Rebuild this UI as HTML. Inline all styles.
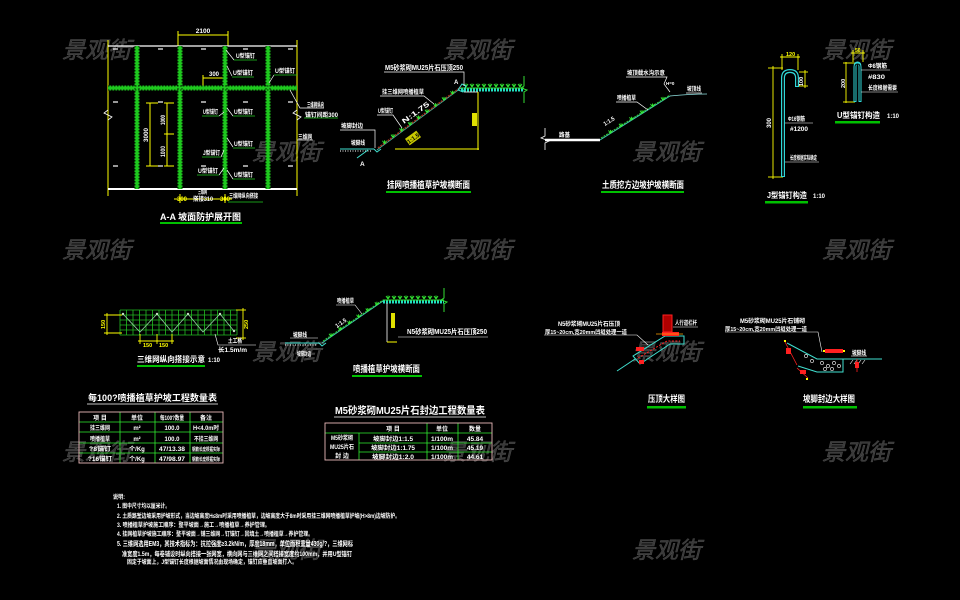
<!DOCTYPE html>
<html><head><meta charset="utf-8">
<style>
html,body{margin:0;padding:0;background:#000;}
svg{display:block;}
text{font-family:"Liberation Sans","Noto Sans CJK SC",sans-serif;font-weight:bold;}
.wm text{font-weight:normal;}
</style></head><body>
<svg width="960" height="600" viewBox="0 0 960 600" xmlns="http://www.w3.org/2000/svg">
<defs>
<g id="gr"><path d="M0,0 l-2,-3 M0,0 l0,-3.5 M0,0 l2,-3" stroke="#33ee33" stroke-width="0.9" fill="none"/></g>
</defs>
<rect width="960" height="600" fill="#000"/>

<!-- watermarks -->
<g class="wm" font-size="23" font-style="italic" fill="#383838" stroke="#4a4a4a" stroke-width="0.5">
<text x="62" y="58">景观街</text><text x="443" y="58">景观街</text><text x="822" y="58">景观街</text>
<text x="252" y="160">景观街</text><text x="632" y="160">景观街</text>
<text x="62" y="258">景观街</text><text x="443" y="258">景观街</text><text x="822" y="258">景观街</text>
<text x="252" y="360">景观街</text><text x="632" y="360">景观街</text>
<text x="62" y="460">景观街</text><text x="443" y="460">景观街</text><text x="822" y="460">景观街</text>
<text x="252" y="558">景观街</text><text x="632" y="558">景观街</text>
</g>

<!-- ===== A-A ===== -->
<g stroke="#ffff00" stroke-width="1" fill="none">
<line x1="108" y1="40" x2="108" y2="196"/>
<line x1="297" y1="40" x2="297" y2="196"/>
<line x1="178" y1="35" x2="228" y2="35"/>
<line x1="178" y1="31" x2="178" y2="46"/>
<line x1="228" y1="31" x2="228" y2="46"/>
<line x1="203" y1="78" x2="225" y2="78"/>
<line x1="203" y1="75" x2="203" y2="86"/>
<line x1="150" y1="103" x2="150" y2="166"/>
<line x1="146" y1="103" x2="158" y2="103"/>
<line x1="146" y1="166" x2="158" y2="166"/>
<line x1="167" y1="103" x2="167" y2="166"/>
<line x1="164" y1="103" x2="174" y2="103"/>
<line x1="164" y1="134" x2="174" y2="134"/>
<line x1="164" y1="166" x2="174" y2="166"/>
<line x1="174" y1="199" x2="232" y2="199"/>
<line x1="180" y1="194" x2="180" y2="203"/>
<line x1="225" y1="194" x2="225" y2="203"/>
</g>
<line x1="108" y1="46" x2="297" y2="46" stroke="#fff" stroke-width="1.2"/>
<line x1="108" y1="189" x2="297" y2="189" stroke="#fff" stroke-width="2"/>
<path d="M108,110 l-4,3 l8,4 l-4,3 M297,110 l-4,3 l8,4 l-4,3" stroke="#fff" fill="none" stroke-width="0.8"/>
<g fill="#1ec81e">
<rect x="134.5" y="46" width="5" height="143"/>
<rect x="177.5" y="46" width="5" height="143"/>
<rect x="222.5" y="46" width="5" height="143"/>
<rect x="265.5" y="46" width="5" height="143"/>
<rect x="108" y="85.5" width="189" height="5"/>
</g>
<g stroke="#000" stroke-width="0.8" stroke-dasharray="1.5 1.5">
<line x1="135" y1="46" x2="135" y2="189"/><line x1="139" y1="46" x2="139" y2="189"/>
<line x1="178" y1="46" x2="178" y2="189"/><line x1="182" y1="46" x2="182" y2="189"/>
<line x1="223" y1="46" x2="223" y2="189"/><line x1="227" y1="46" x2="227" y2="189"/>
<line x1="266" y1="46" x2="266" y2="189"/><line x1="270" y1="46" x2="270" y2="189"/>
<line x1="108" y1="86" x2="297" y2="86"/><line x1="108" y1="90" x2="297" y2="90"/>
</g>
<g stroke="#fff" stroke-width="1.2">
<line x1="113" y1="49" x2="118" y2="49"/><line x1="158" y1="49" x2="163" y2="49"/><line x1="201" y1="49" x2="206" y2="49"/><line x1="243" y1="49" x2="248" y2="49"/><line x1="288" y1="49" x2="293" y2="49"/>
<line x1="113" y1="102" x2="118" y2="102"/><line x1="158" y1="102" x2="163" y2="102"/><line x1="201" y1="102" x2="206" y2="102"/><line x1="243" y1="102" x2="248" y2="102"/><line x1="288" y1="102" x2="293" y2="102"/>
<line x1="113" y1="166" x2="118" y2="166"/><line x1="158" y1="166" x2="163" y2="166"/><line x1="201" y1="166" x2="206" y2="166"/><line x1="243" y1="166" x2="248" y2="166"/><line x1="288" y1="166" x2="293" y2="166"/>
</g>
<g stroke="#fff" stroke-width="0.7" fill="none">
<path d="M226,50 L234,60"/><path d="M227,66 L232,76"/><path d="M269,83 L274,75"/>
<path d="M219,116 L224,112"/><path d="M227,108 L233,116"/><path d="M227,138 L233,147"/>
<path d="M221,157 L224,150"/><path d="M219,175 L224,168"/><path d="M227,170 L233,179"/>
<path d="M290,90 L300,108 L324,108"/><path d="M297,140 L313,140"/>
</g>
<g stroke="#22cc22" stroke-width="0.8">
<line x1="234" y1="60" x2="257" y2="60"/><line x1="232" y1="77" x2="254" y2="77"/><line x1="274" y1="75" x2="297" y2="75"/>
<line x1="202" y1="116" x2="219" y2="116"/><line x1="233" y1="116" x2="255" y2="116"/><line x1="233" y1="148" x2="255" y2="148"/>
<line x1="202" y1="157" x2="221" y2="157"/><line x1="197" y1="175" x2="219" y2="175"/><line x1="233" y1="179" x2="255" y2="179"/>
<line x1="304" y1="118" x2="338" y2="118"/><line x1="228" y1="202" x2="263" y2="202"/>
</g>
<g fill="#fff" font-size="6">
<text x="203" y="33" text-anchor="middle" font-size="6.5">2100</text>
<text x="209" y="76">300</text>
<text x="236" y="58" textLength="19" lengthAdjust="spacingAndGlyphs">U型锚钉</text>
<text x="233" y="75" textLength="20" lengthAdjust="spacingAndGlyphs">U型锚钉</text>
<text x="275" y="73" textLength="20" lengthAdjust="spacingAndGlyphs">U型锚钉</text>
<text x="203" y="114" textLength="15" lengthAdjust="spacingAndGlyphs">U型锚钉</text>
<text x="234" y="114" textLength="19" lengthAdjust="spacingAndGlyphs">U型锚钉</text>
<text x="234" y="146" textLength="19" lengthAdjust="spacingAndGlyphs">U型锚钉</text>
<text x="203" y="155" textLength="17" lengthAdjust="spacingAndGlyphs">J型锚钉</text>
<text x="198" y="173" textLength="20" lengthAdjust="spacingAndGlyphs">U型锚钉</text>
<text x="234" y="177" textLength="19" lengthAdjust="spacingAndGlyphs">U型锚钉</text>
<text x="307" y="107" textLength="17" lengthAdjust="spacingAndGlyphs">三维网纵向</text>
<text x="305" y="117" textLength="33" lengthAdjust="spacingAndGlyphs">锚钉间距300</text>
<text x="298" y="139" textLength="14" lengthAdjust="spacingAndGlyphs">三维网</text>
<text transform="translate(148,142) rotate(-90)" textLength="14" lengthAdjust="spacingAndGlyphs">3000</text>
<text transform="translate(165,125) rotate(-90)" textLength="10" lengthAdjust="spacingAndGlyphs">1000</text>
<text transform="translate(165,157) rotate(-90)" textLength="11" lengthAdjust="spacingAndGlyphs">1000</text>
<text x="198" y="194" textLength="9" lengthAdjust="spacingAndGlyphs">三维网</text>
<text x="193" y="201" textLength="20" lengthAdjust="spacingAndGlyphs">搭接310</text>
<text x="229" y="198" textLength="29" lengthAdjust="spacingAndGlyphs">三维网纵向搭接</text>
</g>
<g fill="#ffff00" font-size="6"><text x="177" y="201">300</text><text x="220" y="201">300</text></g>
<text x="160" y="220" font-size="9" fill="#fff" textLength="81" lengthAdjust="spacingAndGlyphs">A-A  坡面防护展开图</text>
<rect x="160" y="222" width="82" height="2" fill="#00c000"/>

<!-- ===== Fig 2 ===== -->
<line x1="340" y1="149" x2="374" y2="149" stroke="#40e0d0" stroke-width="1"/>
<line x1="340" y1="151" x2="372" y2="151" stroke="#fff" stroke-width="1" stroke-dasharray="1 1.5"/>
<path d="M374,149 L377,152 L381,149" stroke="#40e0d0" fill="none"/>
<line x1="377" y1="150" x2="461" y2="88" stroke="#40c8b0" stroke-width="0.8"/>
<line x1="378" y1="148" x2="461" y2="87" stroke="#a03020" stroke-width="1.6" stroke-dasharray="2 1"/>
<g><use href="#gr" x="384.5" y="143.8"/><use href="#gr" x="393" y="137.6"/><use href="#gr" x="401.5" y="131.4"/><use href="#gr" x="410" y="125.2"/><use href="#gr" x="418.5" y="119"/><use href="#gr" x="427" y="112.8"/><use href="#gr" x="435.5" y="106.6"/><use href="#gr" x="444" y="100.4"/><use href="#gr" x="452.5" y="94.2"/></g>
<line x1="461" y1="90" x2="524" y2="90" stroke="#20e0c0" stroke-width="3" stroke-dasharray="2 1"/>
<line x1="461" y1="88" x2="524" y2="88" stroke="#33dd33" stroke-width="1"/>
<g><use href="#gr" x="466" y="87"/><use href="#gr" x="472" y="87"/><use href="#gr" x="478" y="87"/><use href="#gr" x="484" y="87"/><use href="#gr" x="490" y="87"/><use href="#gr" x="496" y="87"/><use href="#gr" x="502" y="87"/><use href="#gr" x="508" y="87"/><use href="#gr" x="514" y="87"/><use href="#gr" x="520" y="87"/></g>
<path d="M524,76 L524,86 L521,88 L527,90 L524,92 L524,103" stroke="#33dd33" fill="none"/>
<path d="M458,90 L462,84 L466,86 L463,92 Z" stroke="#40e0d0" fill="none"/>
<line x1="464" y1="92" x2="478" y2="92" stroke="#fff" stroke-width="0.8"/>
<g stroke="#ffff00" fill="none">
<line x1="478" y1="92" x2="478" y2="150"/>
<line x1="395" y1="149" x2="479" y2="149"/>
</g>
<rect x="472" y="113" width="5" height="13" fill="#e0e000"/>
<g transform="translate(413,138) rotate(-36)"><rect x="-7" y="-4" width="14" height="8" fill="#c8c800"/><text x="0" y="2.5" font-size="6" text-anchor="middle" fill="#000">1:1.5</text></g>
<g stroke="#fff" stroke-width="0.7" fill="none">
<path d="M384,72 L464,72 L464,86"/>
<path d="M380,96 L424,96 L434,104"/>
<path d="M377,115 L393,115 L402,128"/>
<path d="M340,130 L375,130 L375,148"/>
</g>
<line x1="357" y1="158" x2="368" y2="150" stroke="#40e0d0"/>
<g fill="#fff" font-size="6">
<text x="385" y="70" font-size="7" textLength="78" lengthAdjust="spacingAndGlyphs">M5砂浆砌MU25片石压顶250</text>
<text x="382" y="94" textLength="42" lengthAdjust="spacingAndGlyphs">挂三维网喷播植草</text>
<text x="378" y="113" textLength="15" lengthAdjust="spacingAndGlyphs">U型锚钉</text>
<text transform="translate(404,124) rotate(-36)" font-size="7" textLength="32" lengthAdjust="spacingAndGlyphs">N:1.75</text>
<text x="341" y="128" textLength="22" lengthAdjust="spacingAndGlyphs">坡脚封边</text>
<text x="351" y="145" textLength="14" lengthAdjust="spacingAndGlyphs">坡脚线</text>
<text x="360" y="166" font-size="6.5">A</text>
<text x="454" y="84" font-size="6">A</text>
</g>
<text x="387" y="188" font-size="9" fill="#fff" textLength="83" lengthAdjust="spacingAndGlyphs">挂网喷播植草护坡横断面</text>
<rect x="386" y="191" width="85" height="2" fill="#00c000"/>

<!-- ===== Fig 3 ===== -->
<path d="M545,128 L545,136 L541,138 L549,141 L545,143 L545,150" stroke="#fff" fill="none" stroke-width="0.8"/>
<line x1="545" y1="140" x2="600" y2="140" stroke="#fff" stroke-width="2.5"/>
<line x1="600" y1="140" x2="670" y2="96" stroke="#40c8b0" stroke-width="1"/>
<line x1="601" y1="138" x2="670" y2="95" stroke="#33cc33" stroke-width="1" stroke-dasharray="2 1"/>
<g><use href="#gr" x="610.5" y="133.4"/><use href="#gr" x="621" y="126.8"/><use href="#gr" x="631.5" y="120.2"/><use href="#gr" x="642" y="113.6"/><use href="#gr" x="652.5" y="107"/><use href="#gr" x="663" y="100.4"/></g>
<path d="M670,96 Q690,94 707,94" stroke="#90e0e0" fill="none" stroke-width="0.8"/>
<g stroke="#fff" stroke-width="0.7" fill="none">
<path d="M616,102 L637,102 L648,110"/>
<path d="M626,77 L667,77 L664,84 L670,92"/>
<path d="M686,93 L702,93"/>
</g>
<g fill="#fff" font-size="6">
<text x="559" y="137" textLength="11" lengthAdjust="spacingAndGlyphs">路基</text>
<text transform="translate(605,126) rotate(-32)" textLength="12" lengthAdjust="spacingAndGlyphs">1:1.5</text>
<text x="617" y="100" textLength="19" lengthAdjust="spacingAndGlyphs">喷播植草</text>
<text x="627" y="75" textLength="38" lengthAdjust="spacingAndGlyphs">坡顶截水沟示意</text>
<text x="666" y="85" font-size="4.5">H=0</text>
<text x="687" y="91" textLength="14" lengthAdjust="spacingAndGlyphs">坡顶线</text>
</g>
<text x="602" y="188" font-size="9" fill="#fff" textLength="82" lengthAdjust="spacingAndGlyphs">土质挖方边坡护坡横断面</text>
<rect x="601" y="191" width="83" height="2" fill="#00c000"/>

<!-- ===== J型锚钉 ===== -->
<g stroke="#ffff00" fill="none" stroke-width="0.9">
<line x1="773" y1="66" x2="773" y2="179"/>
<line x1="768" y1="68" x2="783" y2="68"/>
<line x1="768" y1="177" x2="783" y2="177"/>
<line x1="780" y1="57" x2="800" y2="57"/>
<line x1="782" y1="54" x2="782" y2="70"/>
<line x1="798" y1="54" x2="798" y2="70"/>
<line x1="805" y1="70" x2="805" y2="88"/>
<line x1="799" y1="72" x2="808" y2="72"/>
<line x1="799" y1="86" x2="808" y2="86"/>
</g>
<path d="M783,177 L783,78 Q783,71 790,71 Q797,71 797,78 L797,87" stroke="#30d8d8" stroke-width="4" fill="none"/>
<path d="M783,176 L783,78 Q783,71 790,71 Q797,71 797,78 L797,86" stroke="#000" stroke-width="1.6" fill="none"/>
<g stroke="#fff" stroke-width="0.6" fill="none"><path d="M785,123 L813,123"/><path d="M785,162 L819,162"/></g>
<g fill="#fff" font-size="6">
<text x="786" y="56" fill="#ffff00" font-size="5.5">120</text>
<text transform="translate(803,86) rotate(-90)" font-size="5.5">100</text>
<text transform="translate(771,128) rotate(-90)" font-size="6">300</text>
<text x="788" y="121" textLength="17" lengthAdjust="spacingAndGlyphs">Φ16钢筋</text>
<text x="790" y="131" textLength="18" lengthAdjust="spacingAndGlyphs">#1200</text>
<text x="790" y="160" textLength="27" lengthAdjust="spacingAndGlyphs">长度根据实际确定</text>
<text x="767" y="198" font-size="8" textLength="40" lengthAdjust="spacingAndGlyphs">J型锚钉构造</text>
<text x="813" y="198" font-size="6">1:10</text>
</g>
<rect x="765" y="201" width="43" height="2.5" fill="#00c000"/>

<!-- ===== U型锚钉 ===== -->
<g stroke="#ffff00" fill="none" stroke-width="0.9">
<line x1="846" y1="62" x2="846" y2="103"/>
<line x1="843" y1="63" x2="855" y2="63"/>
<line x1="843" y1="102" x2="855" y2="102"/>
<line x1="851" y1="53" x2="865" y2="53"/>
<line x1="853" y1="50" x2="853" y2="62"/>
<line x1="863" y1="50" x2="863" y2="62"/>
</g>
<path d="M855,102 L855,67 Q855,63 857.5,63 Q860,63 860,67 L860,102" stroke="#30d8d8" stroke-width="3" fill="none"/>
<path d="M855,101 L855,67 Q855,64 857.5,64 Q860,64 860,67 L860,101" stroke="#000" stroke-width="1" fill="none"/>
<g stroke="#fff" stroke-width="0.6" fill="none"><path d="M861,70 L890,70"/><path d="M861,92 L898,92"/></g>
<g fill="#fff" font-size="6">
<text x="855" y="52" fill="#ffff00" font-size="5">50</text>
<text transform="translate(845,88) rotate(-90)" font-size="5.5">200</text>
<text x="868" y="68" textLength="19" lengthAdjust="spacingAndGlyphs">Φ8钢筋</text>
<text x="868" y="79" textLength="17" lengthAdjust="spacingAndGlyphs">#830</text>
<text x="868" y="90" textLength="29" lengthAdjust="spacingAndGlyphs">长度根据需要</text>
<text x="837" y="118" font-size="8" textLength="43" lengthAdjust="spacingAndGlyphs">U型锚钉构造</text>
<text x="887" y="118" font-size="6">1:10</text>
</g>
<rect x="835" y="121" width="45" height="2.5" fill="#00c000"/>

<!-- ===== 三维网纵向搭接示意 ===== -->
<g stroke="#22bb22" stroke-width="0.8">
<line x1="120" y1="310" x2="120" y2="335"/><line x1="126.5" y1="310" x2="126.5" y2="335"/><line x1="133" y1="310" x2="133" y2="335"/><line x1="139.5" y1="310" x2="139.5" y2="335"/><line x1="146" y1="310" x2="146" y2="335"/><line x1="152.5" y1="310" x2="152.5" y2="335"/><line x1="159" y1="310" x2="159" y2="335"/><line x1="165.5" y1="310" x2="165.5" y2="335"/><line x1="172" y1="310" x2="172" y2="335"/><line x1="178.5" y1="310" x2="178.5" y2="335"/><line x1="185" y1="310" x2="185" y2="335"/><line x1="191.5" y1="310" x2="191.5" y2="335"/><line x1="198" y1="310" x2="198" y2="335"/><line x1="204.5" y1="310" x2="204.5" y2="335"/><line x1="211" y1="310" x2="211" y2="335"/><line x1="217.5" y1="310" x2="217.5" y2="335"/><line x1="224" y1="310" x2="224" y2="335"/><line x1="230.5" y1="310" x2="230.5" y2="335"/><line x1="237" y1="310" x2="237" y2="335"/>
<line x1="120" y1="310" x2="237" y2="310"/><line x1="120" y1="315" x2="237" y2="315"/><line x1="120" y1="320" x2="237" y2="320"/><line x1="120" y1="325" x2="237" y2="325"/><line x1="120" y1="330" x2="237" y2="330"/><line x1="120" y1="335" x2="237" y2="335"/>
</g>
<polyline points="123,314 140,332 157,314 172,332 188,314 203,332 220,314 234,331" stroke="#90d0a0" stroke-width="0.8" fill="none"/>
<g fill="#c0e0c0"><circle cx="123" cy="314" r="1.2"/><circle cx="157" cy="314" r="1.2"/><circle cx="188" cy="314" r="1.2"/><circle cx="220" cy="314" r="1.2"/><circle cx="234" cy="331" r="1.2"/></g>
<g stroke="#ffff00" fill="none" stroke-width="0.9">
<line x1="107" y1="313" x2="107" y2="335"/><line x1="104" y1="315" x2="122" y2="315"/><line x1="104" y1="333" x2="122" y2="333"/>
<line x1="243" y1="308" x2="243" y2="340"/><line x1="236" y1="310" x2="246" y2="310"/><line x1="236" y1="338" x2="246" y2="338"/>
<line x1="138" y1="341" x2="174" y2="341"/><line x1="140" y1="334" x2="140" y2="344"/><line x1="157" y1="334" x2="157" y2="344"/><line x1="172" y1="334" x2="172" y2="344"/>
</g>
<g fill="#ffff00" font-size="5.5">
<text transform="translate(105,329) rotate(-90)">150</text>
<text transform="translate(248,329) rotate(-90)">250</text>
<text x="143" y="347">150</text><text x="159" y="347">150</text>
</g>
<path d="M215,334 L218,345 L256,345" stroke="#fff" stroke-width="0.6" fill="none"/>
<g fill="#fff" font-size="6">
<text x="228" y="343" textLength="14" lengthAdjust="spacingAndGlyphs">土工格</text>
<text x="218" y="352" textLength="29" lengthAdjust="spacingAndGlyphs">长1.5m/m</text>
<text x="137" y="362" font-size="8" textLength="68" lengthAdjust="spacingAndGlyphs">三维网纵向搭接示意</text>
<text x="208" y="362" font-size="6">1:10</text>
</g>
<rect x="137" y="365" width="68" height="2" fill="#00c000"/>

<!-- ===== 喷播植草护坡横断面 ===== -->
<line x1="285" y1="343" x2="319" y2="343" stroke="#40e0d0"/>
<line x1="285" y1="345" x2="317" y2="345" stroke="#fff" stroke-dasharray="1 1.5"/>
<path d="M319,343 L322,346 L326,343" stroke="#40e0d0" fill="none"/>
<line x1="322" y1="343" x2="383" y2="301" stroke="#40c8b0"/>
<line x1="323" y1="341" x2="383" y2="300" stroke="#33cc33" stroke-dasharray="2 1"/>
<g><use href="#gr" x="331" y="336.7"/><use href="#gr" x="340.3" y="330.4"/><use href="#gr" x="349.5" y="324.1"/><use href="#gr" x="358.6" y="317.8"/><use href="#gr" x="367.8" y="311.5"/><use href="#gr" x="376.9" y="305.2"/></g>
<line x1="383" y1="302" x2="444" y2="302" stroke="#20e0c0" stroke-width="3" stroke-dasharray="2 1"/>
<line x1="383" y1="300" x2="444" y2="300" stroke="#33dd33"/>
<g><use href="#gr" x="388" y="299"/><use href="#gr" x="394" y="299"/><use href="#gr" x="400" y="299"/><use href="#gr" x="406" y="299"/><use href="#gr" x="412" y="299"/><use href="#gr" x="418" y="299"/><use href="#gr" x="424" y="299"/><use href="#gr" x="430" y="299"/><use href="#gr" x="436" y="299"/></g>
<path d="M444,288 L444,298 L441,300 L447,302 L444,304 L444,312" stroke="#33dd33" fill="none"/>
<line x1="387" y1="303" x2="387" y2="342" stroke="#fff" stroke-width="0.8"/>
<line x1="387" y1="342" x2="397" y2="342" stroke="#ffff00"/>
<rect x="391" y="313" width="4" height="15" fill="#e0e000"/>
<g stroke="#fff" stroke-width="0.6" fill="none">
<path d="M398,337 L488,337"/>
<path d="M336,305 L355,305 L362,314"/>
<path d="M290,338 L318,338"/>
</g>
<g fill="#fff" font-size="6">
<text x="407" y="334" font-size="7" textLength="80" lengthAdjust="spacingAndGlyphs">N5砂浆砌MU25片石压顶250</text>
<text x="337" y="303" textLength="17" lengthAdjust="spacingAndGlyphs">喷播植草</text>
<text transform="translate(337,328) rotate(-34)" textLength="12" lengthAdjust="spacingAndGlyphs">1:1.5</text>
<text x="293" y="337" textLength="14" lengthAdjust="spacingAndGlyphs">坡脚线</text>
<text x="297" y="356" textLength="14" lengthAdjust="spacingAndGlyphs">坡脚封边</text>
<text x="353" y="372" font-size="9" textLength="67" lengthAdjust="spacingAndGlyphs">喷播植草护坡横断面</text>
</g>
<rect x="352" y="375" width="70" height="2" fill="#00c000"/>

<!-- ===== 压顶大样图 ===== -->
<g stroke="#fff" stroke-width="0.6" fill="none">
<path d="M544,335 L637,335 L648,345"/>
<path d="M673,327 L698,327"/>
</g>
<g fill="#fff" font-size="6">
<text x="558" y="326" textLength="62" lengthAdjust="spacingAndGlyphs">N5砂浆砌MU25片石压顶</text>
<text x="545" y="334" font-size="5.5" textLength="82" lengthAdjust="spacingAndGlyphs">厚15~20cm,宽20mm凹缝处理一道</text>
<text x="675" y="325" textLength="22" lengthAdjust="spacingAndGlyphs">人行道栏杆</text>
</g>
<line x1="617" y1="371" x2="635" y2="359" stroke="#40e0d0"/>
<polygon points="633,356 665,336 684,336 684,344 670,344 640,364" stroke="#40e0d0" fill="none"/>
<polyline points="638,358 667,341 680,341" stroke="#ff2020" stroke-dasharray="2 1.5" fill="none"/>
<rect x="663" y="315" width="9" height="17" fill="#b00000" stroke="#ff2020"/>
<rect x="662" y="332" width="17" height="4" fill="#ff2020"/>
<line x1="656" y1="334" x2="683" y2="334" stroke="#ffa000" stroke-width="0.8"/>
<g fill="#ff2020">
<rect x="636" y="347" width="8" height="4"/><rect x="639" y="360" width="5" height="4"/>
</g>
<text x="648" y="402" font-size="9" fill="#fff" textLength="37" lengthAdjust="spacingAndGlyphs">压顶大样图</text>
<rect x="647" y="406" width="39" height="2.5" fill="#00c000"/>

<!-- ===== 坡脚封边大样图 ===== -->
<g stroke="#fff" stroke-width="0.6" fill="none">
<path d="M725,332 L818,332 L822,352"/>
<path d="M851,356 L867,356"/>
<path d="M850,364 l3,-4 M854,364 l3,-4 M858,364 l3,-4 M862,364 l3,-4"/>
</g>
<g fill="#fff" font-size="6">
<text x="740" y="323" textLength="65" lengthAdjust="spacingAndGlyphs">M5砂浆砌MU25片石铺砌</text>
<text x="725" y="331" font-size="5.5" textLength="82" lengthAdjust="spacingAndGlyphs">厚15~20cm,宽20mm凹缝处理一道</text>
<text x="852" y="355" textLength="14" lengthAdjust="spacingAndGlyphs">坡脚线</text>
</g>
<path d="M787,343 L817,359 L882,359" stroke="#40e0d0" fill="none"/>
<path d="M798,366 L817,372 L843,372 L843,359" stroke="#40e0d0" fill="none"/>
<g fill="none" stroke="#fff" stroke-width="0.6">
<circle cx="806" cy="356" r="1.6"/><circle cx="812" cy="361" r="1.6"/><circle cx="822" cy="363" r="1.6"/><circle cx="828" cy="366" r="1.6"/><circle cx="834" cy="363" r="1.6"/><circle cx="839" cy="366" r="1.6"/><circle cx="825" cy="369" r="1.6"/><circle cx="832" cy="369" r="1.6"/>
</g>
<g stroke="#ff2020" stroke-width="0.8" fill="none">
<line x1="784" y1="340" x2="797" y2="365"/>
<line x1="797" y1="368" x2="808" y2="378"/>
<line x1="857" y1="359" x2="857" y2="372"/>
</g>
<g fill="#ff2020"><rect x="825" y="349" width="18" height="4"/><rect x="786" y="348" width="5" height="6"/><rect x="800" y="370" width="6" height="4"/><rect x="855" y="362" width="4" height="6"/></g>
<g fill="#ffff00"><rect x="823" y="350" width="2" height="2"/><rect x="843" y="350" width="2" height="2"/><rect x="784" y="340" width="2" height="2"/><rect x="806" y="378" width="2" height="2"/></g>
<text x="803" y="402" font-size="9" fill="#fff" textLength="52" lengthAdjust="spacingAndGlyphs">坡脚封边大样图</text>
<rect x="803" y="406" width="54" height="2.5" fill="#00c000"/>

<!-- ===== Table 1 ===== -->
<text x="88" y="401" font-size="9" fill="#fff" textLength="129" lengthAdjust="spacingAndGlyphs">每100?喷播植草护坡工程数量表</text>
<line x1="87" y1="404" x2="218" y2="404" stroke="#fff" stroke-width="0.8"/>
<g stroke="#30ee30" stroke-width="0.8">
<line x1="79" y1="422" x2="223" y2="422"/><line x1="79" y1="432" x2="223" y2="432"/><line x1="79" y1="443" x2="223" y2="443"/><line x1="79" y1="453" x2="223" y2="453"/>
<line x1="120" y1="412" x2="120" y2="463"/><line x1="155" y1="412" x2="155" y2="463"/><line x1="190" y1="412" x2="190" y2="463"/>
</g>
<rect x="79" y="412" width="144" height="51" fill="none" stroke="#e8b8b8" stroke-width="0.9"/>
<g fill="#fff" font-size="6" text-anchor="middle">
<text x="100" y="420">项 目</text><text x="137" y="420">单位</text><text x="172" y="420" textLength="24" lengthAdjust="spacingAndGlyphs">每100?数量</text><text x="206" y="420">备注</text>
<text x="100" y="430" textLength="20" lengthAdjust="spacingAndGlyphs">挂三维网</text><text x="137" y="430">m²</text><text x="172" y="430">100.0</text><text x="206" y="430" textLength="26" lengthAdjust="spacingAndGlyphs">H&lt;4.0m时</text>
<text x="100" y="441" textLength="20" lengthAdjust="spacingAndGlyphs">喷播植草</text><text x="137" y="441">m²</text><text x="172" y="441">100.0</text><text x="206" y="441" textLength="24" lengthAdjust="spacingAndGlyphs">不挂三维网</text>
<text x="100" y="451" textLength="22" lengthAdjust="spacingAndGlyphs">?8锚钉</text><text x="137" y="451">个/Kg</text><text x="172" y="451" textLength="26" lengthAdjust="spacingAndGlyphs">47/13.38</text><text x="206" y="451" font-size="5" textLength="28" lengthAdjust="spacingAndGlyphs">钢筋长度根据实际</text>
<text x="100" y="461" textLength="24" lengthAdjust="spacingAndGlyphs">?16锚钉</text><text x="137" y="461">个/Kg</text><text x="172" y="461" textLength="26" lengthAdjust="spacingAndGlyphs">47/98.97</text><text x="206" y="461" font-size="5" textLength="28" lengthAdjust="spacingAndGlyphs">钢筋长度根据实际</text>
</g>

<!-- ===== Table 2 ===== -->
<text x="335" y="414" font-size="10" fill="#fff" textLength="150" lengthAdjust="spacingAndGlyphs">M5砂浆砌MU25片石封边工程数量表</text>
<line x1="334" y1="417" x2="486" y2="417" stroke="#fff" stroke-width="0.8"/>
<g stroke="#30ee30" stroke-width="0.8">
<line x1="325" y1="433" x2="492" y2="433"/><line x1="359" y1="443" x2="492" y2="443"/><line x1="359" y1="452" x2="492" y2="452"/>
<line x1="359" y1="433" x2="359" y2="460"/><line x1="427" y1="423" x2="427" y2="460"/><line x1="458" y1="423" x2="458" y2="460"/>
</g>
<rect x="325" y="423" width="167" height="37" fill="none" stroke="#e8b8b8" stroke-width="0.9"/>
<g fill="#fff" font-size="6" text-anchor="middle">
<text x="393" y="431">项 目</text><text x="442" y="431">单位</text><text x="475" y="431">数量</text>
<text x="342" y="440" textLength="22" lengthAdjust="spacingAndGlyphs">M5砂浆砌</text>
<text x="342" y="449" textLength="24" lengthAdjust="spacingAndGlyphs">MU25片石</text>
<text x="342" y="458">封 边</text>
<text x="393" y="441" textLength="40" lengthAdjust="spacingAndGlyphs">坡脚封边1:1.5</text>
<text x="393" y="450" textLength="44" lengthAdjust="spacingAndGlyphs">坡脚封边1:1.75</text>
<text x="393" y="459" textLength="42" lengthAdjust="spacingAndGlyphs">坡脚封边1:2.0</text>
<text x="442" y="441" font-size="6.5">1/100m</text><text x="442" y="450" font-size="6.5">1/100m</text><text x="442" y="459" font-size="6.5">1/100m</text>
<text x="475" y="441" font-size="6.5">45.84</text><text x="475" y="450" font-size="6.5">45.19</text><text x="475" y="459" font-size="6.5">44.61</text>
</g>

<!-- ===== Notes ===== -->
<g fill="#fff" font-size="6">
<text x="113" y="499" textLength="12" lengthAdjust="spacingAndGlyphs">说明:</text>
<text x="117" y="508" textLength="53" lengthAdjust="spacingAndGlyphs">1. 图中尺寸均以厘米计。</text>
<text x="117" y="518" textLength="283" lengthAdjust="spacingAndGlyphs">2. 土质路堑边坡采用护坡形式，当边坡高度H≤8m时采用喷播植草，边坡高度大于8m时采用挂三维网喷播植草护坡(H&gt;8m)边坡防护。</text>
<text x="117" y="527" textLength="153" lengthAdjust="spacingAndGlyphs">3. 喷播植草护坡施工顺序：整平坡面→施工→喷播植草→养护管理。</text>
<text x="117" y="536" textLength="196" lengthAdjust="spacingAndGlyphs">4. 挂网植草护坡施工顺序：整平坡面→铺三维网→钉锚钉→回填土→喷播植草→养护管理。</text>
<text x="117" y="546" font-size="7" textLength="236" lengthAdjust="spacingAndGlyphs">5. 三维网选用EM3，其技术指标为：抗拉强度≥3.2kN/m，厚度18mm，单位面积重量430g/?，三维网标</text>
<text x="122" y="556" font-size="6.5" textLength="230" lengthAdjust="spacingAndGlyphs">准宽度1.5m，每卷铺设时纵向搭接一张网宽，横向网与三维网之间搭接宽度约100mm，并用U型锚钉</text>
<text x="127" y="564" textLength="170" lengthAdjust="spacingAndGlyphs">固定于坡面上，J型锚钉长度根据坡面情况由现场确定，锚钉应垂直坡面打入。</text>
</g>
</svg>
</body></html>
